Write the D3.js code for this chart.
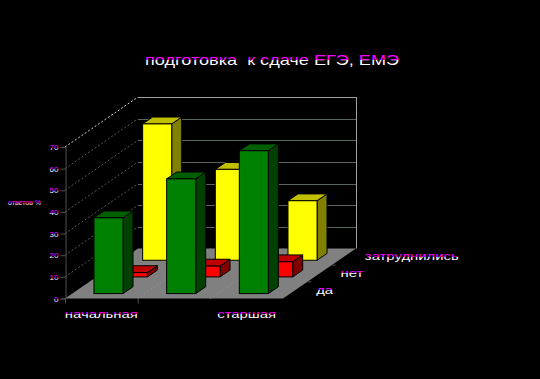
<!DOCTYPE html>
<html>
<head>
<meta charset="utf-8">
<script src="https://cdn.jsdelivr.net/npm/d3@7"></script>
<style>
html, body { margin: 0; background: #000; }
svg { display: block; }
text { font-family: "Liberation Sans", sans-serif; fill: url(#ink); }
.title { font-size: 15px; }
.cat, .ser { font-size: 11px; }
.tick text { font-size: 8px; font-family: "Liberation Sans", sans-serif; fill: url(#ink); }
</style>
</head>
<body>
<script>
const chartTitle = 'подготовка  к сдаче ЕГЭ, ЕМЭ'
const yTitle = 'ответов %'
const categories = ['начальная', 'средняя', 'старшая']
const shownCategories = ['начальная', 'старшая']
const seriesNames = ['да', 'нет', 'затруднились']
const da = [35, 53, 66]
const net = [2, 5, 7]
const zatrud = [63, 42, 27.5]
const yTicks = [0, 10, 20, 30, 40, 50, 60, 70]

const colors = {
	'да': { front: '#008000', side: '#004000', top: '#006000' },
	'нет': { front: '#ff0000', side: '#800000', top: '#c00000' },
	'затруднились': { front: '#ffff00', side: '#808000', top: '#c0c000' }
}

const values = { 'да': da, 'нет': net, 'затруднились': zatrud }

const width = 540, height = 379
const plot = { left: 65, right: 283, floor: 298.5, top: 147 }
const depthX = 73
const depthY = 50
const stretch = 1.35

const svg = d3.select('body').append('svg')
.attr('width', width)
.attr('height', height)

// two tone text, magenta on the upper rows like the source image
const ink = svg.append('defs').append('linearGradient')
.attr('id', 'ink')
.attr('x1', 0).attr('x2', 0).attr('y1', 0).attr('y2', 1)
ink.append('stop').attr('offset', 0.52).attr('stop-color', '#ff00ff')
ink.append('stop').attr('offset', 0.52).attr('stop-color', '#ffffff')

// source text is wide, stretch the glyphs instead of spacing them
const widen = sel => sel.each(function () {
	d3.select(this)
	.attr('textLength', this.getComputedTextLength() * stretch)
	.attr('lengthAdjust', 'spacingAndGlyphs')
})

let x = d3.scaleBand()
.domain(categories)
.range([plot.left, plot.right])
.paddingInner(0.6)
.paddingOuter(0.3)

let y = d3.scaleLinear()
.domain([0, 70])
.range([plot.floor, plot.top])

let z = d3.scaleBand()
.domain(seriesNames)
.range([0, depthX])
.paddingInner(0.59)
.paddingOuter(0.295)

// oblique projection, depth d goes right and up
const px = (xv, d) => xv + d
const py = (yv, d) => yv - d * depthY / depthX
const pts = arr => arr.map(p => p.join(',')).join(' ')

// floor
svg.append('polygon')
.attr('points', pts([
	[plot.left, plot.floor],
	[plot.right, plot.floor],
	[px(plot.right, depthX), py(plot.floor, depthX)],
	[px(plot.left, depthX), py(plot.floor, depthX)]
]))
.attr('fill', '#808080')

// floor dots between categories
const step = x.step()
d3.range(1, categories.length).forEach(i => {
	svg.append('line')
	.attr('x1', plot.left + step * i).attr('y1', plot.floor)
	.attr('x2', px(plot.left + step * i, depthX)).attr('y2', py(plot.floor, depthX))
	.attr('stroke', '#9a9a9a')
	.attr('stroke-dasharray', '1,3')
})

// walls
const grid = svg.append('g')
yTicks.slice(1).forEach(t => {
	const isTop = t === 70
	grid.append('line')
	.attr('x1', plot.left).attr('y1', y(t))
	.attr('x2', px(plot.left, depthX)).attr('y2', py(y(t), depthX))
	.attr('stroke', isTop ? '#d0d0d0' : '#4c5f4c')
	.attr('stroke-dasharray', '2,2')
	grid.append('line')
	.attr('x1', px(plot.left, depthX)).attr('y1', Math.round(py(y(t), depthX)) + 0.5)
	.attr('x2', px(plot.right, depthX)).attr('y2', Math.round(py(y(t), depthX)) + 0.5)
	.attr('stroke', isTop ? '#a0a0a0' : '#5a665a')
})
grid.append('line')
.attr('x1', px(plot.right, depthX) + 0.5).attr('y1', py(y(70), depthX))
.attr('x2', px(plot.right, depthX) + 0.5).attr('y2', py(plot.floor, depthX))
.attr('stroke', '#a0a0a0')

// bars, back row first
const barDepth = z.bandwidth()
const rows = seriesNames.slice().reverse()

rows.forEach(name => {
	const d0 = z(name)
	const d1 = d0 + barDepth
	const c = colors[name]

	const bars = svg.append('g')
	.attr('class', 'row')
	.attr('stroke', '#000')
	.attr('stroke-width', 1)
	.selectAll('g')
	.data(categories.map((cat, i) => ({ cat, v: values[name][i] })))
	.enter()
	.append('g')

	bars.append('polygon')
	.attr('fill', c.side)
	.attr('points', d => {
		const r = x(d.cat) + x.bandwidth()
		return pts([
			[px(r, d0), py(y(d.v), d0)],
			[px(r, d1), py(y(d.v), d1)],
			[px(r, d1), py(y(0), d1)],
			[px(r, d0), py(y(0), d0)]
		])
	})

	bars.append('polygon')
	.attr('fill', c.top)
	.attr('points', d => {
		const l = x(d.cat), r = l + x.bandwidth()
		return pts([
			[px(l, d0), py(y(d.v), d0)],
			[px(l, d1), py(y(d.v), d1)],
			[px(r, d1), py(y(d.v), d1)],
			[px(r, d0), py(y(d.v), d0)]
		])
	})

	bars.append('rect')
	.attr('fill', c.front)
	.attr('x', d => px(x(d.cat), d0))
	.attr('y', d => py(y(d.v), d0))
	.attr('width', x.bandwidth())
	.attr('height', d => y(0) - y(d.v))
})

// y axis
const yAxis = svg.append('g')
.attr('transform', `translate(${plot.left + 0.5},0)`)
.call(d3.axisLeft(y).tickValues(yTicks).tickSize(5).tickPadding(2).tickFormat(d3.format('d')))
yAxis.select('.domain').attr('stroke', '#505050')
yAxis.selectAll('.tick line').attr('stroke', '#505050')

// x axis, only the first two ticks show in the source
d3.range(0, 2).forEach(i => {
	svg.append('line')
	.attr('x1', plot.left + step * i + 0.5).attr('y1', plot.floor)
	.attr('x2', plot.left + step * i + 0.5).attr('y2', plot.floor + 5)
	.attr('stroke', '#505050')
})

svg.selectAll('.cat')
.data(shownCategories)
.enter()
.append('text')
.attr('class', 'cat')
.attr('x', d => x(d) + x.bandwidth() / 2)
.attr('y', 318)
.attr('text-anchor', 'middle')
.text(d => d)
.call(widen)

// depth axis
d3.range(1, seriesNames.length).forEach(i => {
	const d = depthX / seriesNames.length * i
	svg.append('line')
	.attr('x1', px(plot.right, d)).attr('y1', py(plot.floor, d))
	.attr('x2', px(plot.right, d) + 4).attr('y2', py(plot.floor, d))
	.attr('stroke', '#505050')
})

svg.selectAll('.ser')
.data(seriesNames)
.enter()
.append('text')
.attr('class', 'ser')
.attr('x', d => px(plot.right, z(d) + barDepth / 2) + 21)
.attr('y', d => py(plot.floor, z(d) + barDepth / 2) + 3.5)
.text(d => d)
.call(widen)

svg.append('text')
.attr('class', 'title')
.attr('x', 145)
.attr('y', 65)
.attr('textLength', 254)
.attr('lengthAdjust', 'spacingAndGlyphs')
.attr('xml:space', 'preserve')
.text(chartTitle)

svg.append('text')
.attr('x', 8)
.attr('y', 205)
.style('font-size', '7.5px')
.attr('textLength', 33)
.attr('lengthAdjust', 'spacingAndGlyphs')
.text(yTitle)
</script>
</body>
</html>
